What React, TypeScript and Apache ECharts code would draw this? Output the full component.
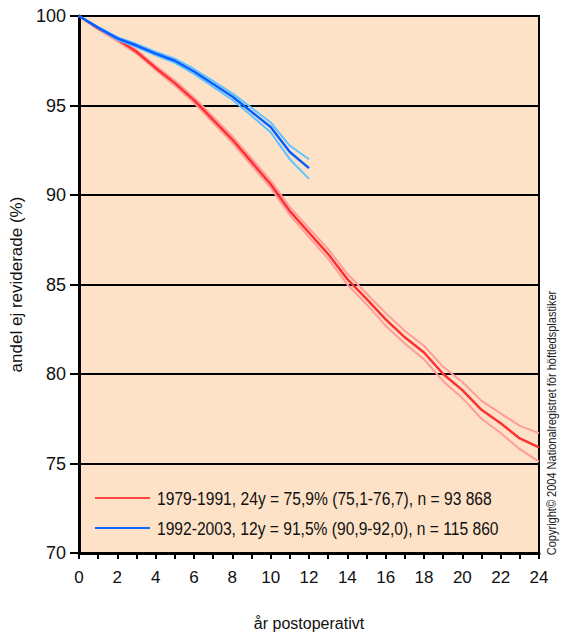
import React, { useEffect, useRef } from "react";
import * as echarts from "echarts";

const years = [0, 1, 2, 3, 4, 5, 6, 7, 8, 9, 10, 11, 12, 13, 14, 15, 16, 17, 18, 19, 20, 21, 22, 23, 24];
const redMain = [100, 99.3, 98.7, 98.0, 97.1, 96.25, 95.3, 94.2, 93.1, 91.85, 90.6, 89.1, 87.9, 86.7, 85.3, 84.2, 83.05, 82.05, 81.2, 80.0, 79.1, 78.0, 77.25, 76.4, 75.9];
const redUpper = [100, 99.35, 98.8, 98.1, 97.22, 96.4, 95.45, 94.37, 93.28, 92.04, 90.8, 89.32, 88.15, 86.97, 85.6, 84.5, 83.4, 82.4, 81.58, 80.4, 79.55, 78.5, 77.8, 77.1, 76.7];
const redLower = [100, 99.25, 98.6, 97.9, 96.98, 96.1, 95.15, 94.03, 92.92, 91.66, 90.4, 88.88, 87.65, 86.43, 85.0, 83.9, 82.7, 81.7, 80.82, 79.6, 78.65, 77.5, 76.7, 75.8, 75.1];
const blueYears = [0, 1, 2, 3, 4, 5, 6, 7, 8, 9, 10, 11, 12];
const blueMain = [100, 99.35, 98.75, 98.35, 97.9, 97.5, 96.9, 96.2, 95.5, 94.65, 93.8, 92.4, 91.5];
const blueUpper = [100, 99.38, 98.82, 98.44, 98.0, 97.62, 97.04, 96.36, 95.68, 94.87, 94.05, 92.75, 92.0];
const blueLower = [100, 99.32, 98.68, 98.26, 97.8, 97.38, 96.76, 96.04, 95.32, 94.43, 93.5, 92.0, 90.9];
const yTicks = [70, 75, 80, 85, 90, 95, 100];
const legendNames = [
  "1979-1991, 24y = 75,9% (75,1-76,7), n = 93 868",
  "1992-2003, 12y = 91,5% (90,9-92,0), n = 115 860",
];
const yAxisTitle = "andel ej reviderade (%)";
const xAxisTitle = "år postoperativt";
const copyright = "Copyright© 2004 Nationalregistret för höftledsplastiker";

const FONT = "'Liberation Sans', Arial, sans-serif";

function pairs(xs: number[], ys: number[]) {
  return xs.map((x, i) => [x, ys[i]]);
}

function measure(text: string, size: number): number {
  const c = document.createElement("canvas").getContext("2d");
  if (!c) return text.length * size * 0.5;
  c.font = `${size}px 'Liberation Sans', Arial, sans-serif`;
  return c.measureText(text).width;
}

export default function App() {
  const ref = useRef<HTMLDivElement>(null);
  useEffect(() => {
    if (!ref.current) return;
    const chart = echarts.init(ref.current, null, { renderer: "svg" });
    const lineSeries = (name: string | undefined, xs: number[], ys: number[], color: string, width: number, z: number) => ({
      type: "line",
      name,
      data: pairs(xs, ys),
      showSymbol: false,
      symbol: "none",
      lineStyle: { color, width },
      itemStyle: { color },
      z,
      silent: true,
    });
    const legFont = 19;
    const legTargets = [335, 342];
    const legColors = ["#ff4545", "#1565ff"];
    const legYs = [498, 528];
    const legendGraphics = legendNames.map((name, i) => ({
      type: "group",
      children: [
        {
          type: "line",
          shape: { x1: 95, y1: legYs[i], x2: 150, y2: legYs[i] },
          style: { stroke: legColors[i], lineWidth: 2 },
        },
        {
          type: "text",
          x: 157,
          y: legYs[i],
          scaleX: legTargets[i] / measure(name, legFont),
          style: {
            text: name,
            fontFamily: FONT,
            fontSize: legFont,
            fill: "#111",
            align: "left",
            verticalAlign: "middle",
          },
        },
      ],
    }));
    const cpFont = 12.5;
    chart.setOption({
      animation: false,
      textStyle: { fontFamily: FONT },
      grid: {
        left: 79,
        top: 16,
        width: 460,
        height: 537,
        containLabel: false,
        outerBoundsMode: "none",
        show: true,
        backgroundColor: "#fde2c7",
        borderColor: "#000",
        borderWidth: 2,
      },
      xAxis: {
        type: "value",
        min: 0,
        max: 24,
        interval: 1,
        name: xAxisTitle,
        nameLocation: "middle",
        nameGap: 62,
        nameTextStyle: { fontFamily: FONT, fontSize: 16, color: "#111" },
        axisLine: { show: true, lineStyle: { color: "#000", width: 3 } },
        axisTick: { show: true, length: 6, lineStyle: { color: "#000", width: 2 } },
        axisLabel: {
          margin: 16,
          fontSize: 17,
          color: "#111",
          fontFamily: FONT,
          formatter: (v: number) => (v % 2 === 0 ? String(v) : ""),
        },
        splitLine: { show: false },
      },
      yAxis: {
        type: "value",
        min: 70,
        max: 100,
        interval: 5,
        name: yAxisTitle,
        nameLocation: "middle",
        nameRotate: 90,
        nameGap: 54,
        nameTextStyle: { fontFamily: FONT, fontSize: 17, color: "#111" },
        axisLine: { show: true, lineStyle: { color: "#000", width: 3 } },
        axisTick: { show: true, length: 9, lineStyle: { color: "#000", width: 2 } },
        axisLabel: {
          margin: 13,
          fontSize: 18,
          color: "#111",
          fontFamily: FONT,
          formatter: (v: number) => (yTicks.includes(v) ? String(v) : ""),
        },
        splitLine: { show: true, lineStyle: { color: "#000", width: 2 } },
      },
      series: [
        lineSeries(undefined, years, redUpper, "#ff9c9c", 2, 2),
        lineSeries(undefined, years, redLower, "#ff9c9c", 2, 2),
        lineSeries(legendNames[0], years, redMain, "#ff3030", 2.5, 3),
        lineSeries(undefined, blueYears, blueUpper, "#5cc4ff", 2, 4),
        lineSeries(undefined, blueYears, blueLower, "#5cc4ff", 2, 4),
        lineSeries(legendNames[1], blueYears, blueMain, "#0a5cff", 2.5, 5),
      ],
      graphic: [
        ...legendGraphics,
        {
          type: "text",
          x: 551,
          y: 423,
          rotation: Math.PI / 2,
          scaleX: 265 / measure(copyright, cpFont),
          style: {
            text: copyright,
            fontFamily: FONT,
            fontSize: cpFont,
            fill: "#222",
            align: "center",
            verticalAlign: "middle",
          },
        },
      ],
    });
    return () => chart.dispose();
  }, []);
  return (
    <div
      ref={ref}
      style={{ position: "absolute", left: 0, top: 0, width: 564, height: 635, background: "#fff" }}
    />
  );
}
